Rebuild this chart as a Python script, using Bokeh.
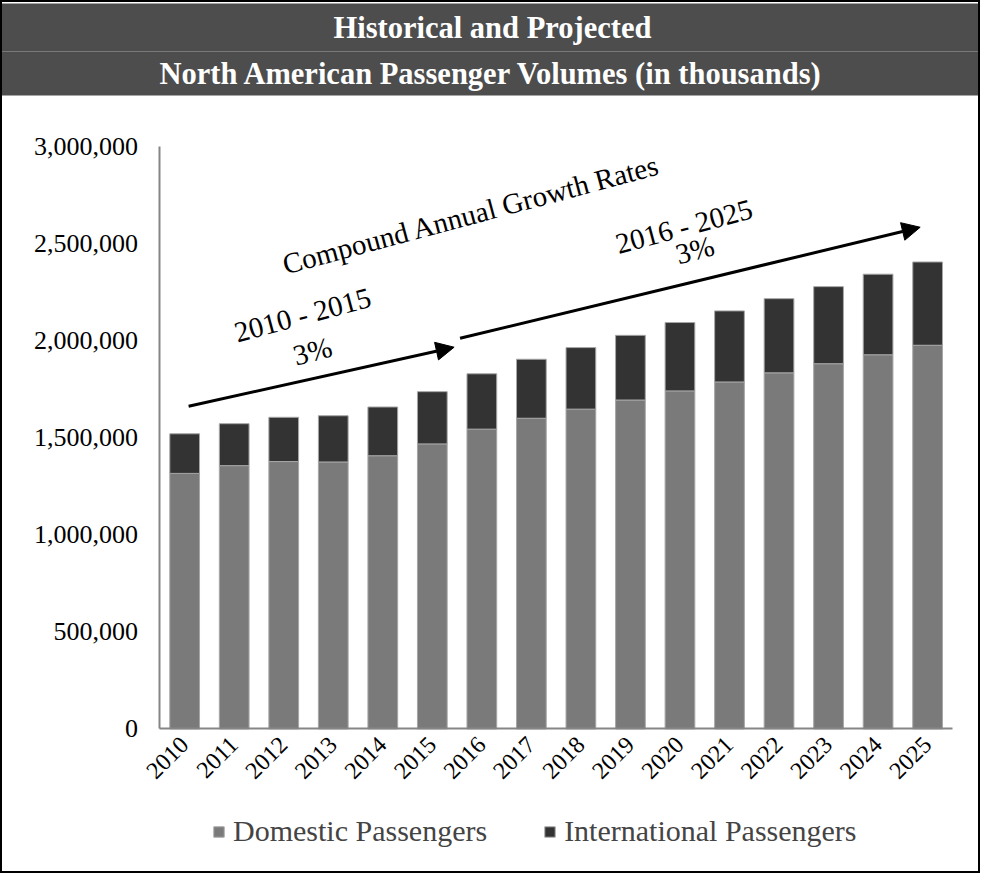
from bokeh.plotting import figure
from bokeh.models import (ColumnDataSource, NumeralTickFormatter, FixedTicker, Arrow,
                          NormalHead, Legend, Range1d, Title)
from bokeh.core.properties import value
from bokeh.embed import file_html
from bokeh.resources import INLINE
import math

# ---------------- data ----------------
years = ["2010", "2011", "2012", "2013", "2014", "2015", "2016", "2017",
         "2018", "2019", "2020", "2021", "2022", "2023", "2024", "2025"]
domestic = [1316000, 1356000, 1377000, 1375000, 1407000, 1468000, 1544000, 1600000,
            1647000, 1694000, 1741000, 1787000, 1834000, 1881000, 1927000, 1976000]
international = [204000, 216000, 228000, 238000, 251000, 269000, 285000, 304000,
                 317000, 333000, 352000, 366000, 382000, 397000, 415000, 429000]
series_names = ["Domestic Passengers", "International Passengers"]
y_ticks = [0, 500000, 1000000, 1500000, 2000000, 2500000, 3000000]

title_lines = ["Historical and Projected",
               "North American Passenger Volumes (in thousands)"]

# growth-rate annotations (x in year-index units, y in passengers)
arrow_x0 = [0.08, 5.56]
arrow_y0 = [1662000, 2012000]
arrow_x1 = [5.44, 14.85]
arrow_y1 = [1966000, 2584000]
note_text = ["Compound Annual Growth Rates", "2010 - 2015", "3%", "2016 - 2025", "3%"]
note_x = [5.78, 2.38, 2.58, 10.08, 10.30]
note_y = [2650000, 2133000, 1946000, 2589000, 2468000]

SERIF = "Liberation Serif"
DOM_COLOR = "#7a7a7a"
INT_COLOR = "#333333"
BAND = "#4d4d4d"

W, H = 980, 873
# the frame covers the whole canvas below the title band; axes sit at fixed places
FRAME_TOP = 125
TOP_TICK_PX = 142      # canvas row of the 3,000,000 tick
ZERO_PX = 726          # canvas row of the zero line
AXIS_PX = 157.4        # canvas column of the y axis
CAT_PX = 49.53         # width of one year slot in pixels

x_idx = list(range(len(years)))
ppu = (ZERO_PX - TOP_TICK_PX) / y_ticks[-1]
Y_END = y_ticks[-1] + (TOP_TICK_PX - FRAME_TOP) / ppu
Y_START = -(H - ZERO_PX) / ppu
X_START = -0.5 - AXIS_PX / CAT_PX
X_END = X_START + W / CAT_PX

src = ColumnDataSource(dict(xi=x_idx, year=years, dom=domestic, intl=international))

p = figure(width=W, height=H, x_range=Range1d(X_START, X_END),
           y_range=Range1d(Y_START, Y_END),
           output_backend="svg", toolbar_location=None, title=None,
           min_border_left=0, min_border_right=0, min_border_top=FRAME_TOP,
           min_border_bottom=0,
           styles={"border": "2px solid black"})
p.outline_line_color = None
p.xgrid.visible = False
p.ygrid.visible = False
p.background_fill_color = "white"
p.border_fill_color = "white"

# white spacer between band and plot, then the two title lines on a wide dark band
spacer = Title(text=" ", text_font=SERIF, text_font_size="30px",
               padding=(0, 0), standoff=0, border_line_color=None)
t2 = Title(text=title_lines[1], align="left", offset=157 - 800,
           text_color="white", text_font=SERIF, text_font_style="bold",
           text_font_size="30.5px", background_fill_color=BAND,
           border_line_color=BAND, border_line_width=2,
           padding=(800, 4), standoff=0)
t1 = Title(text=title_lines[0], align="left", offset=331 - 800,
           text_color="white", text_font=SERIF, text_font_style="bold",
           text_font_size="30.5px", background_fill_color=BAND,
           border_line_color=BAND, border_line_width=2,
           padding=(800, 6), standoff=0)
p.add_layout(spacer, "above")
p.add_layout(t2, "above")
p.add_layout(t1, "above")

renderers = p.vbar_stack(["dom", "intl"], x="xi", width=0.6, source=src,
                         color=[DOM_COLOR, INT_COLOR], line_color="#a6a6a6",
                         line_width=1)

p.yaxis.ticker = FixedTicker(ticks=y_ticks, minor_ticks=[])
p.yaxis.formatter = NumeralTickFormatter(format="0,0")
p.yaxis.bounds = (y_ticks[0], y_ticks[-1])
p.yaxis.fixed_location = -0.5
p.xaxis.ticker = FixedTicker(ticks=x_idx, minor_ticks=[])
p.xaxis.major_label_overrides = {i: yr for i, yr in zip(x_idx, years)}
p.xaxis.bounds = (-0.5, len(years) - 0.5)
p.xaxis.fixed_location = 0
for ax in (p.xaxis[0], p.yaxis[0]):
    ax.axis_line_color = "#868686"
    ax.axis_line_width = 2
    ax.major_tick_line_color = None
    ax.minor_tick_line_color = None
    ax.major_tick_out = 0
    ax.major_tick_in = 0
    ax.major_label_text_font = SERIF
    ax.major_label_text_color = "black"
p.yaxis.major_label_text_font_size = "26px"
p.yaxis.major_label_standoff = 22
p.xaxis.major_label_text_font_size = "24px"
p.xaxis.major_label_orientation = math.pi / 4
p.xaxis.major_label_standoff = 12

for i in range(len(arrow_x0)):
    p.add_layout(Arrow(x_start=arrow_x0[i], y_start=arrow_y0[i],
                       x_end=arrow_x1[i], y_end=arrow_y1[i],
                       line_color="black", line_width=3,
                       end=NormalHead(size=18, fill_color="black", line_color="black")))

p.text(x=note_x, y=note_y, text=note_text, angle=15, angle_units="deg",
       text_font=value(SERIF), text_font_size="29px", text_color="black",
       text_align="center", text_baseline="middle")

legend = Legend(items=[(series_names[0], [renderers[0]]),
                       (series_names[1], [renderers[1]])],
                orientation="horizontal", location=(210, 27),
                label_text_font=SERIF, label_text_font_size="30px",
                glyph_width=13, glyph_height=13, spacing=56,
                border_line_color=None, background_fill_alpha=0,
                label_standoff=8, margin=0, padding=4)
p.add_layout(legend, "center")

open("out.html", "w").write(file_html(p, INLINE))
